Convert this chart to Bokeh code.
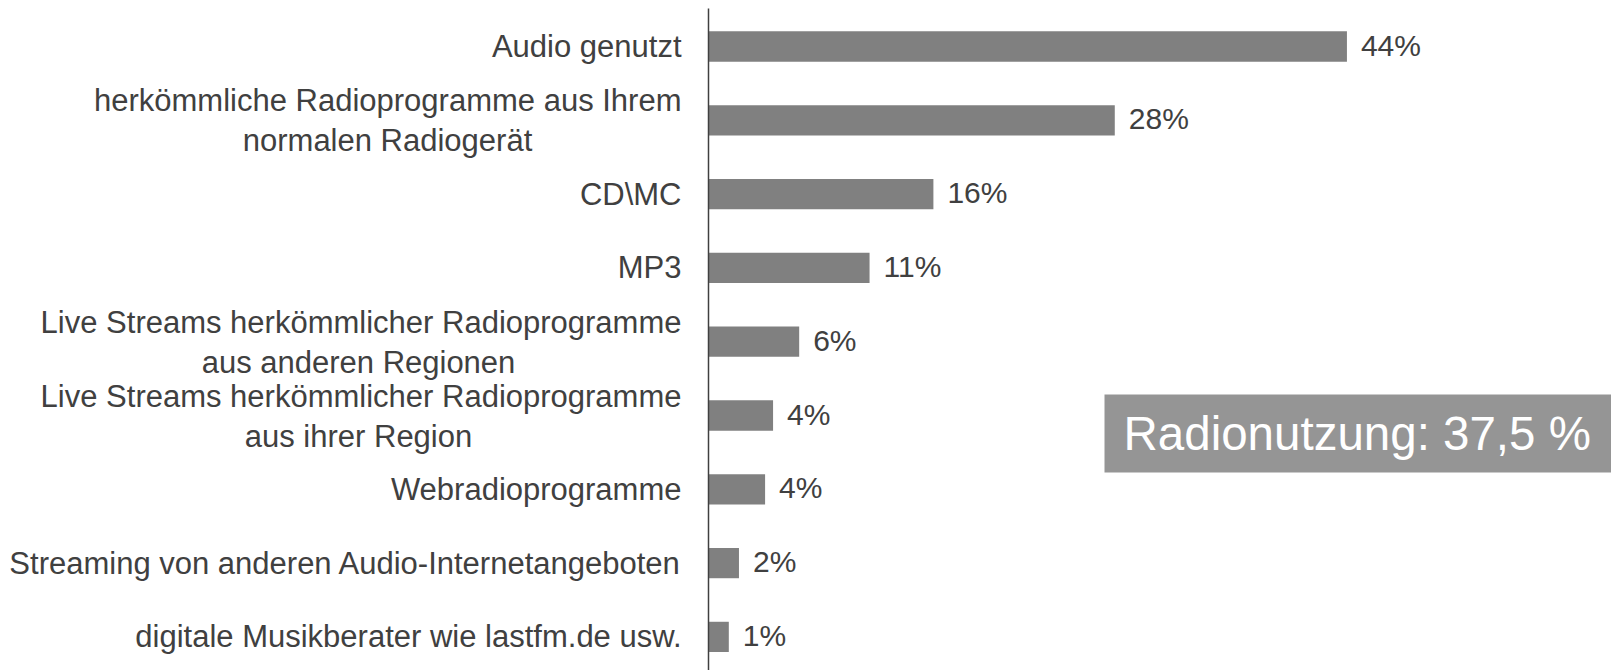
from bokeh.plotting import figure
from bokeh.models import Range1d, BoxAnnotation, Label, ColumnDataSource
from bokeh.core.properties import value
from bokeh.embed import file_html
from bokeh.resources import INLINE

# ---------------- data ----------------
categories = [
    "Audio genutzt",
    "herkömmliche Radioprogramme aus Ihrem\nnormalen Radiogerät",
    "CD\\MC",
    "MP3",
    "Live Streams herkömmlicher Radioprogramme\naus anderen Regionen",
    "Live Streams herkömmlicher Radioprogramme\naus ihrer Region",
    "Webradioprogramme",
    "Streaming von anderen Audio-Internetangeboten",
    "digitale Musikberater wie lastfm.de usw.",
]
shares = [44.0, 28.0, 15.5, 11.1, 6.25, 4.45, 3.9, 2.1, 1.4]
share_labels = ["44%", "28%", "16%", "11%", "6%", "4%", "4%", "2%", "1%"]
highlight_text = "Radionutzung: 37,5 %"

# ---------------- layout ----------------
W, H = 1611, 670
PX_PER_UNIT = 14.51      # horizontal pixels per percent
AXIS_PX = 708            # axis position from figure left
ROW_PX = 73.8            # row pitch
FIRST_ROW_PX = 46        # centre of first row from figure top
AXIS_TOP_PX = 8          # top end of the vertical axis line
FONT_NAME = "Liberation Sans"
FONT = value(FONT_NAME)
TEXT_COLOR = "#404040"

x_range = Range1d(-AXIS_PX / PX_PER_UNIT, (W - AXIS_PX) / PX_PER_UNIT)
y_range = Range1d((H - FIRST_ROW_PX) / ROW_PX, -FIRST_ROW_PX / ROW_PX)

p = figure(width=W, height=H, x_range=x_range, y_range=y_range,
           output_backend="svg", toolbar_location=None, min_border=0)
p.axis.visible = False
p.grid.visible = False
p.outline_line_color = None
p.background_fill_color = "white"
p.border_fill_color = "white"

rows = list(range(len(categories)))
src = ColumnDataSource(dict(y=rows, v=shares, lab=share_labels))

p.hbar(y="y", left=0, right="v", height=0.41, source=src,
       fill_color="#808080", line_color=None)

p.text(x="v", y="y", text="lab", source=src, x_offset=14, y_offset=-1.5,
       text_baseline="middle", text_align="left", text_font=FONT,
       text_font_size="30px", text_color=TEXT_COLOR)

# category labels (multi-line ones: first line right-aligned, second centred under it)
LABEL_GAP = -27
SECOND_LINE_CENTER = {1: -321, 4: -350, 5: -350}
lx, ly, lt, lxo, lyo, la = [], [], [], [], [], []
for i, cat in enumerate(categories):
    lines = cat.split("\n")
    if len(lines) == 1:
        lx.append(0); ly.append(i); lt.append(lines[0])
        lxo.append(LABEL_GAP); lyo.append(0); la.append("right")
    else:
        lx.append(0); ly.append(i); lt.append(lines[0])
        lxo.append(LABEL_GAP); lyo.append(-19.5); la.append("right")
        lx.append(0); ly.append(i); lt.append(lines[1])
        lxo.append(SECOND_LINE_CENTER[i]); lyo.append(20.5); la.append("center")

lab_src = ColumnDataSource(dict(x=lx, y=ly, t=lt, xo=lxo, yo=lyo, a=la))
p.text(x="x", y="y", text="t", x_offset="xo", y_offset="yo", text_align="a",
       source=lab_src, text_baseline="middle", text_font=FONT,
       text_font_size="31px", text_color=TEXT_COLOR)

# vertical axis line (starts a little below the top edge)
p.segment(x0=[0], y0=[(AXIS_TOP_PX - FIRST_ROW_PX) / ROW_PX],
          x1=[0], y1=[y_range.start], line_color="#404040", line_width=1.5)

# highlight box
box_left = (1104 - AXIS_PX) / PX_PER_UNIT
box_top = (394 - FIRST_ROW_PX) / ROW_PX
box_bottom = (472 - FIRST_ROW_PX) / ROW_PX
p.add_layout(BoxAnnotation(left=box_left, right=x_range.end,
                           top=box_top, bottom=box_bottom,
                           fill_color="#959595", fill_alpha=1.0,
                           line_color=None, level="underlay"))
p.add_layout(Label(x=(1123 - AXIS_PX) / PX_PER_UNIT, y=(433 - FIRST_ROW_PX) / ROW_PX,
                   text=highlight_text, text_baseline="middle",
                   text_align="left", text_font=FONT_NAME,
                   text_font_size="47.5px", text_color="white"))

open("out.html", "w").write(file_html(p, INLINE))
